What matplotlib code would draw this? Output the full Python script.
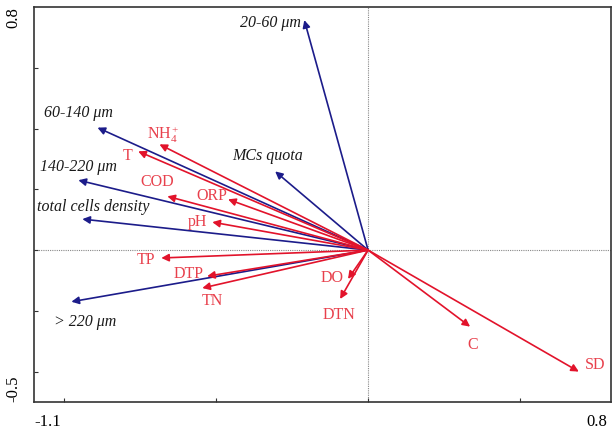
import numpy as np
import matplotlib.pyplot as plt

plt.rcParams['font.family'] = ['Liberation Serif', 'DejaVu Serif']
plt.rcParams['mathtext.fontset'] = 'custom'
plt.rcParams['mathtext.rm'] = 'Liberation Serif'
plt.rcParams['mathtext.it'] = 'Liberation Serif:italic'

# --- species (blue) arrows ---
sp_names = ['20-60 μm', '60-140 μm', '140-220 μm', 'total cells density', '> 220 μm', 'MCs quota']
sp_x = [-0.21, -0.891, -0.954, -0.941, -0.977, -0.306]
sp_y = [0.757, 0.403, 0.230, 0.102, -0.170, 0.259]
sp_lab_x = [-0.322, -0.954, -0.954, -0.905, -0.931, -0.332]
sp_lab_y = [0.746, 0.452, 0.275, 0.141, -0.236, 0.311]

# --- environmental (red) arrows ---
env_names = ['NH$_4^+$', 'T', 'COD', 'ORP', 'pH', 'TP', 'DTP', 'TN', 'DO', 'DTN', 'C', 'SD']
env_x = [-0.687, -0.757, -0.661, -0.461, -0.513, -0.681, -0.530, -0.546, -0.066, -0.092, 0.336, 0.694]
env_y = [0.348, 0.325, 0.177, 0.167, 0.092, -0.026, -0.086, -0.125, -0.095, -0.161, -0.252, -0.400]
env_lab_x = [-0.674, -0.793, -0.694, -0.513, -0.563, -0.730, -0.592, -0.513, -0.118, -0.095, 0.345, 0.747]
env_lab_y = [0.380, 0.311, 0.223, 0.177, 0.092, -0.033, -0.079, -0.167, -0.092, -0.213, -0.311, -0.377]

blue = '#1c1c8a'
red = '#e2132b'
red_txt = '#e8404c'

fig = plt.figure(figsize=(6.12, 4.33), dpi=100)
ax = fig.add_axes([0.0556, 0.0716, 0.9428, 0.9122])

ax.axhline(0, color='#888888', lw=0.8, ls=(0, (1, 1)), zorder=1)
ax.axvline(0, color='#888888', lw=0.8, ls=(0, (1, 1)), zorder=1)

for x, y in zip(sp_x, sp_y):
    ax.annotate('', xy=(x, y), xytext=(0, 0),
                arrowprops=dict(arrowstyle='-|>', color=blue, lw=1.2,
                                mutation_scale=11, shrinkA=0, shrinkB=0), zorder=3)
for x, y in zip(env_x, env_y):
    ax.annotate('', xy=(x, y), xytext=(0, 0),
                arrowprops=dict(arrowstyle='-|>', color=red, lw=1.2,
                                mutation_scale=11, shrinkA=0, shrinkB=0), zorder=4)

for name, x, y in zip(sp_names, sp_lab_x, sp_lab_y):
    ax.text(x, y, name, color='#1a1a1a', fontsize=11.5, style='italic',
            ha='center', va='center', zorder=5)
for name, x, y in zip(env_names, env_lab_x, env_lab_y):
    ax.text(x, y, name, color=red_txt, fontsize=11.5,
            ha='center', va='center', zorder=5)

ax.set_xlim(-1.1, 0.8)
ax.set_ylim(-0.5, 0.8)
ax.set_xticks([-1.0, -0.5, 0, 0.5])
ax.set_yticks([-0.4, -0.2, 0, 0.2, 0.4, 0.6])
ax.set_xticklabels([])
ax.set_yticklabels([])
ax.tick_params(direction='in', length=3, width=0.8, color='#333333')
for s in ax.spines.values():
    s.set_color('#333333')
    s.set_linewidth(1.2)

ax.text(0.0, -0.03, '-1.1', transform=ax.transAxes, ha='left', va='top', fontsize=12)
ax.text(0.993, -0.03, '0.8', transform=ax.transAxes, ha='right', va='top', fontsize=12)
ax.text(-0.022, 1.0, '0.8', transform=ax.transAxes, ha='right', va='top',
        rotation=90, fontsize=12)
ax.text(-0.022, 0.0, '-0.5', transform=ax.transAxes, ha='right', va='bottom',
        rotation=90, fontsize=12)

fig.savefig('out.png', dpi=100)
